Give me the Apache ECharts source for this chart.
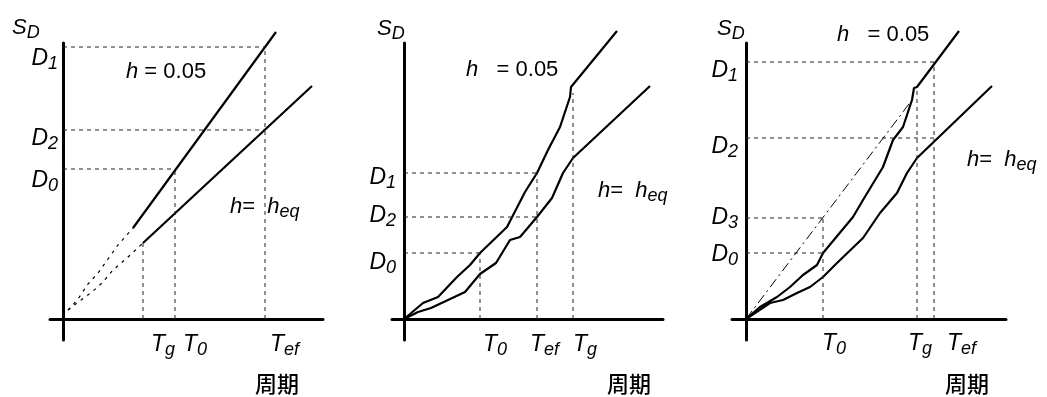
<!DOCTYPE html>
<html>
<head>
<meta charset="utf-8">
<script src="https://cdn.jsdelivr.net/npm/echarts@6/dist/echarts.min.js"></script>
<style>
html,body{margin:0;padding:0;background:#fff;}
#chart{width:1047px;height:397px;}
</style>
</head>
<body>
<div id="chart"></div>
<script>
// ---------------- Panel 1 ----------------
const p1_xTickNames = ['Tg', 'T0', 'Tef'];
const p1_xTickValues = [8.0, 11.2, 20.2];
const p1_yTickNames = ['D1', 'D2', 'D0'];
const p1_yTickValues = [27.2, 18.9, 15.0];
const p1_h005Solid = [[7.0, 9.1], [21.3, 28.7]];
const p1_h005Dotted = [[0.5, 0.9], [1.5, 2.0], [2.5, 3.5], [3.5, 4.6], [4.5, 6.0], [5.5, 7.4], [7.0, 9.1]];
const p1_heqSolid = [[8.0, 7.6], [24.9, 23.3]];
const p1_heqDotted = [[0.5, 0.9], [1.4, 1.6], [2.9, 2.7], [3.9, 3.6], [5.0, 4.9], [6.4, 6.1], [8.0, 7.6]];
const p1_guideH = [['D1', 'Tef'], ['D2', 'Tef'], ['D0', 'T0']];
const p1_guideV = [['Tg', 7.6], ['T0', 'D0'], ['Tef', 'D1']];

// ---------------- Panel 2 ----------------
const p2_xTickNames = ['T0', 'Tef', 'Tg'];
const p2_xTickValues = [7.6, 13.3, 16.9];
const p2_yTickNames = ['D1', 'D2', 'D0'];
const p2_yTickValues = [14.6, 10.2, 6.6];
const p2_h005 = [[0, 0], [0.6, 0.5], [1.9, 1.6], [3.4, 2.2], [5.3, 4.2], [6.6, 5.4], [7.6, 6.6], [10.3, 9.2], [12.1, 12.7], [13.3, 14.6], [14.4, 16.9], [15.6, 19.2], [16.6, 22.2], [16.7, 23.2], [16.9, 23.1], [21.3, 28.8]];
const p2_heq = [[0, 0], [1.4, 0.7], [2.7, 1.1], [4.4, 1.9], [6.1, 2.7], [7.6, 4.5], [9.2, 5.6], [10.6, 7.9], [11.6, 8.2], [13.3, 10.2], [14.8, 12.1], [15.9, 14.6], [16.9, 16.1], [24.6, 23.3]];
const p2_guideH = [['D1', 'Tef'], ['D2', 'Tef'], ['D0', 'T0']];
const p2_guideV = [['T0', 'D0'], ['Tef', 'D1'], ['Tg', 22.6]];

// ---------------- Panel 3 ----------------
const p3_xTickNames = ['T0', 'Tg', 'Tef'];
const p3_xTickValues = [7.7, 17.1, 18.8];
const p3_yTickNames = ['D1', 'D2', 'D3', 'D0'];
const p3_yTickValues = [25.7, 18.1, 10.1, 6.6];
const p3_h005 = [[0, 0], [1.4, 1.2], [3.1, 2.2], [4.4, 3.2], [5.7, 4.4], [7.1, 5.4], [7.7, 6.6], [10.7, 10.2], [11.7, 11.9], [13.7, 15.2], [14.7, 17.9], [15.7, 19.2], [16.6, 21.9], [16.8, 23.1], [17.1, 23.2], [21.3, 28.8]];
const p3_heq = [[0, 0], [2.4, 1.6], [3.7, 1.9], [5.1, 2.6], [6.4, 3.2], [7.7, 4.2], [8.7, 5.2], [9.1, 5.6], [11.7, 8.1], [13.4, 10.6], [15.1, 12.6], [16.1, 14.6], [17.1, 16.1], [24.6, 23.3]];
const p3_dashDot = [[0, 0], [16.6, 21.9]];
const p3_guideH = [['D1', 'Tef'], ['D2', 'Tef'], ['D3', 'T0'], ['D0', 'T0']];
const p3_guideV = [['T0', 'D3'], ['Tg', 22.9], ['Tef', 'D1']];

// ---------------- layout / style (not data) ----------------
const FONT = "'Liberation Sans', Arial, sans-serif";
const CJK = "'Noto Sans CJK JP', 'Noto Sans CJK SC', sans-serif";
const gridsPx = [
  {left: 50, top: 43, width: 273, height: 297},
  {left: 392, top: 43, width: 271, height: 297},
  {left: 732, top: 43, width: 274, height: 297}
];
const xRanges = [[-1.3, 26.0], [-1.2, 25.9], [-1.4, 26.0]];
const yRange = [-2.1, 27.6];
// label offsets in pixels [dx, dy] from tick anchor
const yLabelOffsets = [
  [[-5, 11.5], [-5, 8.5], [-5, 11.5]],
  [[-8, 4.5], [-8, -1], [-8, 9.5]],
  [[-8, 8.5], [-8, 8.5], [-8, -0.5], [-8, 1.5]]
];
const xLabelOffsets = [
  [[8, 25.5], [8, 25.5], [5, 25.5]],
  [[3, 26], [-7, 26], [0, 26]],
  [[-1, 25], [-9, 25], [13, 25]]
];

const panels = [
  {xn: p1_xTickNames, xv: p1_xTickValues, yn: p1_yTickNames, yv: p1_yTickValues, gh: p1_guideH, gv: p1_guideV},
  {xn: p2_xTickNames, xv: p2_xTickValues, yn: p2_yTickNames, yv: p2_yTickValues, gh: p2_guideH, gv: p2_guideV},
  {xn: p3_xTickNames, xv: p3_xTickValues, yn: p3_yTickNames, yv: p3_yTickValues, gh: p3_guideH, gv: p3_guideV}
];

const tickRich = {
  m: {fontFamily: FONT, fontStyle: 'italic', fontSize: 23, color: '#000', lineHeight: 24, textBorderWidth: 0},
  s: {fontFamily: FONT, fontStyle: 'italic', fontSize: 18, color: '#000', lineHeight: 24, padding: [10, 0, 0, 0], textBorderWidth: 0}
};
function subText(name) { return '{m|' + name[0] + '}{s|' + name.slice(1) + '}'; }

const grid = gridsPx.map(g => Object.assign({containLabel: false}, g));
const axisCommon = {
  type: 'value',
  axisLine: {onZero: true, lineStyle: {color: '#000', width: 3}},
  axisTick: {show: false}, axisLabel: {show: false}, splitLine: {show: false}
};
const xAxis = xRanges.map((r, i) => Object.assign({}, axisCommon, {gridIndex: i, min: r[0], max: r[1]}));
const yAxis = xRanges.map((r, i) => Object.assign({}, axisCommon, {gridIndex: i, min: yRange[0], max: yRange[1]}));

const series = [];
function line(i, data, style) {
  series.push({
    type: 'line', xAxisIndex: i, yAxisIndex: i, data: data, symbol: 'none', clip: false,
    silent: true, animation: false,
    lineStyle: Object.assign({color: '#000', width: 2.2}, style || {})
  });
}
const dashed = {width: 1, color: '#222', type: [4, 4]};

line(0, p1_h005Solid);
line(0, p1_heqSolid);
line(0, p1_h005Dotted, {width: 1.2, type: [3, 5]});
line(0, p1_heqDotted, {width: 1.2, type: [3, 5]});
line(1, p2_h005);
line(1, p2_heq);
line(2, p3_h005);
line(2, p3_heq);
line(2, p3_dashDot, {width: 1, type: [10, 4, 2, 4]});

const labelBase = {show: true, position: 'inside', verticalAlign: 'middle', color: '#000',
  textBorderWidth: 0, textShadowBlur: 0, opacity: 1, rich: tickRich};

panels.forEach((p, i) => {
  const lookup = {};
  p.xn.forEach((n, k) => lookup[n] = p.xv[k]);
  p.yn.forEach((n, k) => lookup[n] = p.yv[k]);
  const val = v => (typeof v === 'number' ? v : lookup[v]);
  p.gh.forEach(g => line(i, [[0, val(g[0])], [val(g[1]), val(g[0])]], dashed));
  p.gv.forEach(g => line(i, [[val(g[0]), 0], [val(g[0]), val(g[1])]], dashed));
  // y tick labels
  series.push({
    type: 'scatter', xAxisIndex: i, yAxisIndex: i, symbolSize: 1, silent: true, animation: false,
    itemStyle: {color: 'rgba(0,0,0,0)'},
    data: p.yn.map((n, k) => ({value: [0, p.yv[k]], name: n, label: {offset: yLabelOffsets[i][k]}})),
    label: Object.assign({}, labelBase, {align: 'right', formatter: d => subText(d.name)})
  });
  // x tick labels
  series.push({
    type: 'scatter', xAxisIndex: i, yAxisIndex: i, symbolSize: 1, silent: true, animation: false,
    itemStyle: {color: 'rgba(0,0,0,0)'},
    data: p.xn.map((n, k) => ({value: [p.xv[k], 0], name: n, label: {offset: xLabelOffsets[i][k]}})),
    label: Object.assign({}, labelBase, {align: 'left', formatter: d => subText(d.name)})
  });
});

// free annotations
const annRich = {
  i: {fontFamily: FONT, fontStyle: 'italic', fontSize: 22, color: '#000', lineHeight: 24},
  n: {fontFamily: FONT, fontSize: 22, color: '#000', lineHeight: 24},
  s: {fontFamily: FONT, fontStyle: 'italic', fontSize: 18, color: '#000', lineHeight: 24, padding: [10, 0, 0, 0]}
};
const hLabels = ['{i|h}{n| = 0.05}', '{i|h}{n|   = 0.05}', '{i|h}{n|   = 0.05}'];
const heqLabel = '{i|h}{n|=  }{i|h}{s|eq}';
const sdLabel = '{i|S}{s|D}';
const periodLabel = '周期';
const annPos = {
  h005: [[126, 72], [466, 70], [837, 35]],
  heq: [[230, 207], [598, 191], [967, 160]],
  sd: [[12, 28], [377, 29], [717, 29]],
  period: [[255, 384], [607, 384], [945, 384]]
};
const graphic = [];
function txt(text, pos, extra) {
  graphic.push({type: 'text', x: pos[0], y: pos[1], silent: true,
    style: Object.assign({text: text, rich: annRich, align: 'left', verticalAlign: 'middle',
      fontFamily: FONT, fontSize: 22, fill: '#000'}, extra || {})});
}
for (let i = 0; i < 3; i++) {
  txt(hLabels[i], annPos.h005[i]);
  txt(heqLabel, annPos.heq[i]);
  txt(sdLabel, annPos.sd[i]);
  txt(periodLabel, annPos.period[i], {fontFamily: CJK, fontSize: 22, fontWeight: 500});
}

const chart = echarts.init(document.getElementById('chart'), null, {renderer: 'canvas'});
chart.setOption({
  backgroundColor: '#fff',
  animation: false,
  grid: grid,
  xAxis: xAxis,
  yAxis: yAxis,
  series: series,
  graphic: graphic
});
</script>
</body>
</html>
